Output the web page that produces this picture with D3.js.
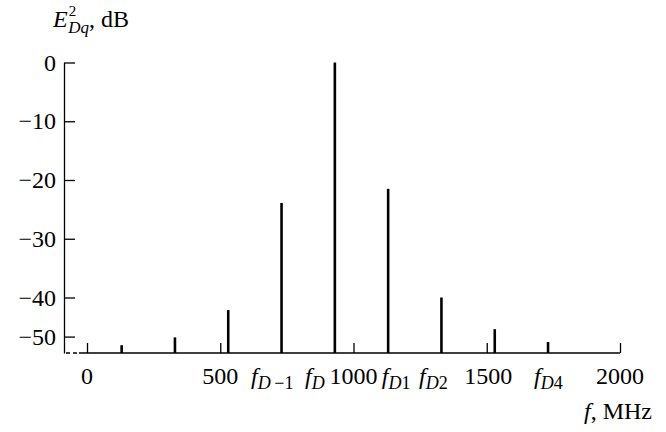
<!DOCTYPE html>
<html>
<head>
<meta charset="utf-8">
<script src="https://cdn.jsdelivr.net/npm/d3@7"></script>
<style>
  body { margin: 0; background: #fff; }
  svg text { font-family: 'Liberation Serif', 'Times New Roman', serif; fill: #000; }
</style>
</head>
<body>
<div id="chart"></div>
<script>
// spectral lines: frequency (MHz) and level (dB)
var lineFreqs = [130, 330, 530, 730, 930, 1130, 1330, 1530, 1730]
var lineLevels = [-52.2, -50.2, -43.2, -23.9, 0, -21.5, -40, -48.1, -51.4]

var yTicks = [0, -10, -20, -30, -40, -50]
var xTicks = [0, 500, 1000, 1500, 2000]

// x tick labels: where they sit (MHz), main text, subscript
var xLabelAt = [0, 500, 695, 855, 1000, 1160, 1300, 1506, 1731, 2000]
var xLabelMain = ['0', '500', 'f', 'f', '1000', 'f', 'f', '1500', 'f', '2000']
var xLabelSub = ['', '', 'D', 'D', '', 'D', 'D', '', 'D', '']
var xLabelSubNum = ['', '', '\u2009\u22121', '', '', '1', '2', '', '4', '']

var width = 666
var height = 432

var svg = d3
  .select('#chart')
  .append('svg')
  .attr('width', width)
  .attr('height', height)

var xPositionScale = d3
  .scaleLinear()
  .domain([0, 2000])
  .range([87, 620])

// bottom part of the level axis is squeezed
var yPositionScale = d3
  .scaleLinear()
  .domain([0, -40, -54.2])
  .range([62.5, 297.5, 353])

var axisX = 64
var baseY = yPositionScale(-54.2)

// y axis
var yAxis = d3
  .axisLeft(yPositionScale)
  .tickValues(yTicks)
  .tickSizeInner(-11)
  .tickSizeOuter(0)
  .tickPadding(8)

svg
  .append('g')
  .attr('class', 'axis y-axis')
  .attr('transform', 'translate(' + axisX + ',0)')
  .call(yAxis)

svg.selectAll('.y-axis text')
  .attr('font-size', 24)
  .attr('font-family', 'Liberation Serif')

// x axis
var xAxis = d3
  .axisBottom(xPositionScale)
  .tickValues(xTicks)
  .tickSizeInner(-10)
  .tickSizeOuter(0)
  .tickFormat('')

svg
  .append('g')
  .attr('class', 'axis x-axis')
  .attr('transform', 'translate(0,' + baseY + ')')
  .call(xAxis)

d3.select('.x-axis .domain').remove()

svg.selectAll('.axis path, .axis line')
  .attr('stroke', '#000')
  .attr('stroke-width', 1.3)

svg
  .append('line')
  .attr('x1', xPositionScale(-30))
  .attr('x2', xPositionScale(2000))
  .attr('y1', baseY)
  .attr('y2', baseY)
  .attr('stroke', '#000')
  .attr('stroke-width', 1.5)

// axis break dashes
svg
  .append('line')
  .attr('x1', axisX + 2)
  .attr('x2', xPositionScale(-30))
  .attr('y1', baseY)
  .attr('y2', baseY)
  .attr('stroke', '#000')
  .attr('stroke-width', 1.5)
  .attr('stroke-dasharray', '4,3')

// spectral lines
svg
  .selectAll('.spec')
  .data(lineFreqs)
  .enter()
  .append('line')
  .attr('class', 'spec')
  .attr('x1', d => xPositionScale(d))
  .attr('x2', d => xPositionScale(d))
  .attr('y1', baseY)
  .attr('y2', (d, i) => yPositionScale(lineLevels[i]))
  .attr('stroke', '#000')
  .attr('stroke-width', 2.6)

// x tick labels
var labels = svg
  .selectAll('.xlab')
  .data(xLabelAt)
  .enter()
  .append('text')
  .attr('class', 'xlab')
  .attr('x', d => xPositionScale(d))
  .attr('y', 384)
  .attr('text-anchor', 'middle')
  .attr('font-size', 24)

labels.each(function(d, i) {
  var t = d3.select(this)
  if (xLabelSub[i] === '') {
    t.text(xLabelMain[i])
    return
  }
  t.append('tspan').attr('font-style', 'italic').text(xLabelMain[i])
  t.append('tspan')
    .attr('font-style', 'italic')
    .attr('font-size', 18)
    .attr('dy', 5)
    .text(xLabelSub[i])
  t.append('tspan')
    .attr('font-size', 18)
    .text(xLabelSubNum[i])
})

// axis titles
var yTitle = svg
  .append('text')
  .attr('x', 53)
  .attr('y', 27)
  .attr('font-size', 24)

yTitle.append('tspan').attr('font-style', 'italic').text('E')
yTitle.append('tspan').attr('font-size', 15).attr('dy', -11).attr('dx', 1).text('2')
yTitle.append('tspan').attr('font-size', 17).attr('font-style', 'italic').attr('dx', -8).attr('dy', 17).text('Dq')
yTitle.append('tspan').attr('dy', -6).text(', dB')

var xTitle = svg
  .append('text')
  .attr('x', 652)
  .attr('y', 419)
  .attr('text-anchor', 'end')
  .attr('font-size', 24)

xTitle.append('tspan').attr('font-style', 'italic').text('f')
xTitle.append('tspan').text(', MHz')
</script>
</body>
</html>
